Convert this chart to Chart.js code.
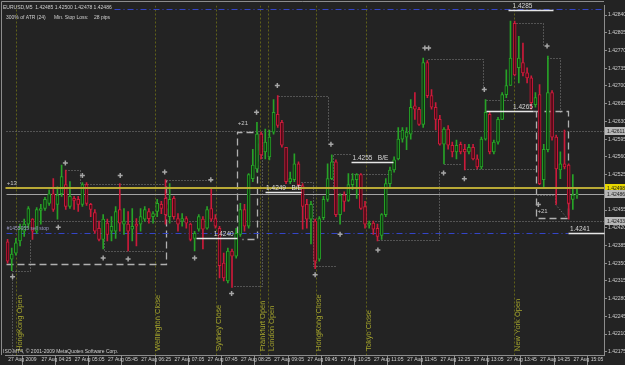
<!DOCTYPE html>
<html><head><meta charset="utf-8">
<script src="https://cdn.jsdelivr.net/npm/chart.js@4.4.1/dist/chart.umd.min.js"></script>
<style>html,body{margin:0;padding:0;background:#232323;overflow:hidden}#wrap{width:625px;height:365px}</style>
</head><body><div id="wrap"><canvas id="c" width="625" height="365"></canvas></div>
<script>
const symbolTitle = "EURUSD,M5  1.42485 1.42500 1.42478 1.42486";
const infoText = "300% of ATR (24)      Min. Stop Loss:    28 pips";
const copyrightText = "ISO MT4, \u00a9 2001-2009 MetaQuotes Software Corp.";

const tickLabels = ["27 Aug 2009","27 Aug 04:25","27 Aug 05:05","27 Aug 05:45","27 Aug 06:25","27 Aug 07:05","27 Aug 07:45","27 Aug 08:25","27 Aug 09:05","27 Aug 09:45","27 Aug 10:25","27 Aug 11:05","27 Aug 11:45","27 Aug 12:25","27 Aug 13:05","27 Aug 13:45","27 Aug 14:25","27 Aug 15:05"];
const yTicks = [1.42175,1.42210,1.42245,1.42280,1.42315,1.42350,1.42385,1.42420,1.42455,1.42490,1.42525,1.42560,1.42595,1.42630,1.42665,1.42700,1.42735,1.42770,1.42805,1.42840];

const opens = [1.42392,1.42358,1.42370,1.42394,1.42413,1.42427,1.42437,1.42413,1.42454,1.42458,1.42468,1.42487,1.42466,1.42487,1.42505,1.42462,1.42478,1.42476,1.42466,1.42505,
1.42466,1.42450,1.42419,1.42397,1.42429,1.42413,1.42413,1.42456,1.42427,1.42427,1.42417,1.42427,1.42427,1.42437,1.42452,1.42442,1.42452,1.42466,1.42478,1.42442,
1.42478,1.42438,1.42433,1.42438,1.42427,1.42399,1.42417,1.42437,1.42419,1.42458,1.42438,1.42419,1.42350,1.42315,1.42374,1.42364,1.42407,1.42456,1.42423,1.42517,
1.42536,1.42605,1.42570,1.42560,1.42609,1.42644,1.42628,1.42579,1.42511,1.42515,1.42546,1.42503,1.42466,1.42437,1.42433,1.42358,1.42440,1.42476,1.42517,1.42550,
1.42446,1.42485,1.42474,1.42505,1.42515,1.42525,1.42462,1.42425,1.42429,1.42419,1.42405,1.42446,1.42507,1.42534,1.42556,1.42595,1.42599,1.42605,1.42661,1.42654,
1.42624,1.42746,1.42681,1.42658,1.42634,1.42585,1.42615,1.42583,1.42570,1.42585,1.42575,1.42570,1.42579,1.42556,1.42540,1.42595,1.42644,1.42570,1.42589,1.42634,
1.42683,1.42701,1.42824,1.42736,1.42746,1.42726,1.42716,1.42663,1.42683,1.42515,1.42574,1.42687,1.42599,1.42534,1.42546,1.42544,1.42476,1.42485];
const highs = [1.42397,1.42380,1.42399,1.42427,1.42437,1.42462,1.42438,1.42460,1.42466,1.42480,1.42495,1.42517,1.42501,1.42544,1.42534,1.42511,1.42482,1.42482,1.42509,1.42509,
1.42468,1.42456,1.42433,1.42446,1.42437,1.42442,1.42462,1.42507,1.42458,1.42452,1.42458,1.42438,1.42458,1.42462,1.42458,1.42452,1.42476,1.42472,1.42515,1.42507,
1.42482,1.42448,1.42448,1.42442,1.42429,1.42413,1.42446,1.42442,1.42462,1.42497,1.42446,1.42423,1.42370,1.42380,1.42378,1.42419,1.42468,1.42466,1.42527,1.42575,
1.42628,1.42609,1.42615,1.42613,1.42673,1.42681,1.42632,1.42579,1.42530,1.42566,1.42550,1.42507,1.42476,1.42472,1.42437,1.42442,1.42482,1.42546,1.42564,1.42554,
1.42487,1.42491,1.42527,1.42527,1.42527,1.42527,1.42472,1.42433,1.42433,1.42427,1.42448,1.42517,1.42540,1.42560,1.42618,1.42618,1.42618,1.42673,1.42687,1.42658,
1.42755,1.42750,1.42693,1.42667,1.42642,1.42618,1.42622,1.42589,1.42593,1.42589,1.42585,1.42585,1.42585,1.42564,1.42599,1.42673,1.42648,1.42593,1.42638,1.42687,
1.42732,1.42828,1.42828,1.42798,1.42785,1.42736,1.42720,1.42687,1.42703,1.42585,1.42759,1.42691,1.42603,1.42570,1.42613,1.42546,1.42525,1.42500];
const lows = [1.42350,1.42335,1.42366,1.42384,1.42403,1.42419,1.42397,1.42409,1.42427,1.42454,1.42464,1.42452,1.42437,1.42482,1.42456,1.42458,1.42456,1.42452,1.42462,1.42464,
1.42442,1.42409,1.42394,1.42378,1.42394,1.42394,1.42399,1.42413,1.42407,1.42374,1.42394,1.42384,1.42413,1.42433,1.42429,1.42429,1.42442,1.42448,1.42427,1.42429,
1.42437,1.42413,1.42423,1.42419,1.42394,1.42374,1.42413,1.42378,1.42417,1.42433,1.42419,1.42321,1.42315,1.42311,1.42302,1.42360,1.42403,1.42413,1.42419,1.42511,
1.42530,1.42556,1.42556,1.42554,1.42605,1.42618,1.42579,1.42507,1.42507,1.42511,1.42501,1.42417,1.42419,1.42388,1.42339,1.42354,1.42436,1.42472,1.42515,1.42442,
1.42427,1.42452,1.42472,1.42495,1.42478,1.42456,1.42419,1.42419,1.42407,1.42394,1.42397,1.42442,1.42501,1.42530,1.42554,1.42589,1.42574,1.42595,1.42634,1.42622,
1.42618,1.42677,1.42654,1.42613,1.42583,1.42546,1.42575,1.42560,1.42556,1.42566,1.42534,1.42566,1.42554,1.42536,1.42536,1.42593,1.42566,1.42566,1.42585,1.42634,
1.42677,1.42701,1.42720,1.42706,1.42720,1.42706,1.42654,1.42658,1.42505,1.42497,1.42570,1.42593,1.42466,1.42517,1.42536,1.42437,1.42456,1.42478];
const closes = [1.42354,1.42368,1.42390,1.42419,1.42427,1.42458,1.42413,1.42456,1.42458,1.42476,1.42487,1.42456,1.42485,1.42521,1.42462,1.42482,1.42474,1.42466,1.42505,1.42468,
1.42456,1.42413,1.42397,1.42437,1.42407,1.42423,1.42452,1.42429,1.42433,1.42413,1.42423,1.42423,1.42442,1.42456,1.42438,1.42448,1.42468,1.42458,1.42446,1.42476,
1.42442,1.42427,1.42438,1.42429,1.42397,1.42409,1.42442,1.42417,1.42456,1.42437,1.42423,1.42345,1.42321,1.42374,1.42364,1.42409,1.42456,1.42423,1.42525,1.42544,
1.42605,1.42564,1.42589,1.42599,1.42648,1.42622,1.42583,1.42511,1.42517,1.42546,1.42505,1.42462,1.42437,1.42466,1.42354,1.42438,1.42476,1.42517,1.42550,1.42446,
1.42485,1.42472,1.42505,1.42515,1.42525,1.42458,1.42427,1.42429,1.42417,1.42403,1.42446,1.42507,1.42534,1.42554,1.42595,1.42613,1.42609,1.42658,1.42654,1.42624,
1.42746,1.42681,1.42658,1.42634,1.42585,1.42615,1.42583,1.42570,1.42583,1.42570,1.42570,1.42579,1.42556,1.42540,1.42595,1.42648,1.42570,1.42589,1.42634,1.42683,
1.42701,1.42755,1.42722,1.42755,1.42726,1.42716,1.42667,1.42677,1.42507,1.42575,1.42687,1.42599,1.42536,1.42546,1.42540,1.42468,1.42485,1.42486];

// horizontal price levels
const yellowLevel = 1.42498;
const bidLevel = 1.42486;
const dottedLevels = [1.42611, 1.42433];
const sellStopLevel = 1.42409;
const topBlueLevel = 1.42853;
const axisMarks = [{price:1.42611, kind:'gray'}, {price:1.42498, kind:'yellow'}, {price:1.42486, kind:'gray'}, {price:1.42433, kind:'gray'}];

// session separators (bar position)
const sessionNames = ["HongKong Open","Wellington Close","Sydney Close","Frankfurt Open","London Open","HongKong Close","Tokyo Close","New York Open"];
const sessionBars = [2.1, 35.4, 50.1, 60.7, 62.7, 74.2, 86.2, 121.9];

// trade levels (white)
const levelPrices = [1.42400, 1.42490, 1.42550, 1.42650, 1.42410, 1.42850];
const levelFrom = [45.3, 62.0, 82.6, 115.0, 134.9, 120.3];
const levelTo = [55.1, 70.7, 92.7, 126.5, 143.5, 131.3];
const levelText = ["1.4240", "1.4249   B/E", "1.4255   B/E", "1.4265", "1.4241", "1.4285"];
const levelTextBar = [49.6, 62.2, 83.0, 121.6, 135.3, 121.5];

// range boxes (long dashes) and stop steps (dotted), [bar, price]
const dashPaths = [
  [[-0.5,1.42349],[38.1,1.42349],[38.1,1.42515]],
  [[55.3,1.42409],[55.3,1.42609],[60.1,1.42609],[60.1,1.42397],[56.5,1.42397]],
  [[126.5,1.42650],[134.9,1.42650],[134.9,1.42439],[127.2,1.42439],[127.2,1.42650]]
];
const dotPaths = [
  [[13.9,1.42534],[17.5,1.42534],[17.5,1.42507],[37.8,1.42507]],
  [[23.2,1.42419],[23.2,1.42374],[37.8,1.42374]],
  [[38.1,1.42515],[49.1,1.42515]],
  [[65.1,1.42681],[77.1,1.42681],[77.1,1.42589]],
  [[54.4,1.42304],[61.1,1.42304],[61.1,1.42609]],
  [[70.7,1.42511],[73.5,1.42511],[73.5,1.42345],[79.0,1.42345]],
  [[78.3,1.42497],[78.3,1.42566],[82.6,1.42566]],
  [[82.6,1.42527],[92.2,1.42527]],
  [[89.1,1.42396],[103.7,1.42396],[103.7,1.42536]],
  [[104.9,1.42546],[109.0,1.42546]],
  [[109.7,1.42536],[127.0,1.42536]],
  [[101.1,1.42753],[114.3,1.42753],[114.3,1.42693]],
  [[115.0,1.42673],[121.7,1.42673]],
  [[121.7,1.42824],[128.9,1.42824],[128.9,1.42779]],
  [[129.8,1.42755],[132.9,1.42755],[132.9,1.42648]],
  [[127.4,1.42485],[131.7,1.42485],[131.7,1.42466],[134.6,1.42439]],
  [[1.0,1.42168],[1.0,1.42335],[5.5,1.42335],[5.5,1.42397]]
];
const markerBars = [13.9,18.0,27.1,12.2,23.0,29.0,1.2,37.8,48.9,59.9,64.9,45.0,53.9,100.4,101.3,77.8,80.0,89.1,104.9,129.8,114.7,109.9,127.7,74.0];
const markerPrices = [1.42548,1.42523,1.42523,1.42421,1.42360,1.42358,1.42323,1.42530,1.42515,1.42648,1.42701,1.42360,1.42290,1.42775,1.42775,1.42585,1.42407,1.42376,1.42528,1.42779,1.42693,1.42517,1.42466,1.42327];
const noteText = ["+13", "+21", "+21", "#1455955 sell stop"];
const noteBar = [-0.2, 55.4, 127.5, -0.2];
const notePrice = [1.42504, 1.42622, 1.42449, 1.42415];

const BG = '#232323';
const GREEN = '#27a327', RED = '#cc1a3a';
const bull = i => closes[i] >= opens[i];
const idx = opens.map((_, i) => i);

function P(chart, b, p) { return [chart.scales.x.getPixelForValue(b), chart.scales.y.getPixelForValue(p)]; }
function strokePath(ctx, chart, pts) {
  ctx.beginPath();
  pts.forEach(([b, p], k) => {
    const [x, y] = P(chart, b, p);
    const X = Math.round(x) + 0.5, Y = Math.round(y) + 0.5;
    if (k) ctx.lineTo(X, Y); else ctx.moveTo(X, Y);
  });
  ctx.stroke();
}
function hLine(ctx, chart, price, b0, b1) { strokePath(ctx, chart, [[b0, price], [b1, price]]); }

const overlay = {
  id: 'overlay',
  beforeDraw(chart) {
    const c = chart.ctx; c.save(); c.fillStyle = BG; c.fillRect(0, 0, chart.width, chart.height); c.restore();
  },
  beforeDatasetsDraw(chart) {
    const c = chart.ctx, a = chart.chartArea;
    c.save();
    c.beginPath(); c.rect(a.left, a.top, a.right - a.left, a.bottom - a.top); c.clip();
    c.strokeStyle = '#606019'; c.lineWidth = 1; c.setLineDash([2, 2]);
    sessionBars.forEach(b => { const x = Math.round(chart.scales.x.getPixelForValue(b)) + 0.5; c.beginPath(); c.moveTo(x, a.top); c.lineTo(x, a.bottom); c.stroke(); });
    c.strokeStyle = '#858585'; c.setLineDash([1, 2]);
    dottedLevels.forEach(p => hLine(c, chart, p, -0.5, 143.5));
    dotPaths.forEach(pts => strokePath(c, chart, pts));
    c.strokeStyle = '#b0b0b0'; c.lineWidth = 1.3; c.setLineDash([7, 4]);
    dashPaths.forEach(pts => strokePath(c, chart, pts));
    c.strokeStyle = '#3445c8'; c.lineWidth = 1; c.setLineDash([6, 3, 1, 3]);
    hLine(c, chart, sellStopLevel, -0.5, levelFrom[4]);
    hLine(c, chart, topBlueLevel, 25.5, 143.5);
    c.setLineDash([]);
    c.strokeStyle = '#a4a4a4'; c.lineWidth = 1;
    hLine(c, chart, bidLevel, -0.5, 143.5);
    c.restore();
  },
  afterDatasetsDraw(chart) {
    const c = chart.ctx, a = chart.chartArea;
    c.save();
    c.strokeStyle = '#b9a936'; c.lineWidth = 2;
    const yy = chart.scales.y.getPixelForValue(yellowLevel);
    c.beginPath(); c.moveTo(a.left, Math.round(yy)); c.lineTo(a.right, Math.round(yy)); c.stroke();
    c.strokeStyle = '#e6e6e6'; c.lineWidth = 1.5;
    levelPrices.forEach((p, i) => hLine(c, chart, p, levelFrom[i], levelTo[i]));
    c.fillStyle = '#d8d8d8'; c.font = '6.5px "Liberation Sans"'; c.textBaseline = 'alphabetic'; c.textAlign = 'left';
    levelPrices.forEach((p, i) => { const [x, y] = P(chart, levelTextBar[i], p); c.fillText(levelText[i], x, y - 2); });
    c.font = '6px "Liberation Sans"';
    noteText.forEach((t, i) => {
      const [x, y] = P(chart, noteBar[i], notePrice[i]);
      c.fillStyle = i === 3 ? '#9a9ac4' : '#c8c8c8';
      if (i === 3) c.font = '5px "Liberation Sans"';
      c.fillText(t, x, y);
    });
    c.fillStyle = '#a3a32e'; c.font = '7.5px "Liberation Sans"';
    sessionNames.forEach((n, i) => {
      const x = chart.scales.x.getPixelForValue(sessionBars[i]);
      c.save(); c.translate(x + 5.5, a.bottom - 4); c.rotate(-Math.PI / 2); c.fillText(n, 0, 0); c.restore();
    });
    c.fillStyle = '#cfcfcf'; c.font = '5px "Liberation Sans"';
    c.fillText(symbolTitle, 3, 9);
    c.fillText(infoText, 6, 19);
    c.fillText(copyrightText, 3, 353);
    c.restore();
  },
  afterDraw(chart) {
    const c = chart.ctx, a = chart.chartArea;
    c.save();
    c.strokeStyle = '#8c8c8c'; c.lineWidth = 1;
    c.beginPath(); c.moveTo(1.5, a.bottom); c.lineTo(1.5, 1.5); c.lineTo(a.right, 1.5); c.stroke();
    c.font = '5px "Liberation Sans"'; c.textBaseline = 'middle'; c.textAlign = 'left';
    axisMarks.forEach(m => {
      const y = Math.round(chart.scales.y.getPixelForValue(m.price));
      c.fillStyle = m.kind === 'yellow' ? '#e8d800' : '#b8b8b8';
      c.fillRect(a.right + 1, y - 4, 20, 8);
      c.fillStyle = '#1a1a1a';
      c.fillText(m.price.toFixed(5), a.right + 3, y + 0.5);
    });
    c.restore();
  }
};

new Chart(document.getElementById('c'), {
  type: 'bar',
  data: {
    datasets: [
      { type: 'bar', data: idx.map(i => ({ x: i, y: [lows[i], highs[i]] })), barThickness: 1, grouped: false, order: 3,
        backgroundColor: ctx => bull(ctx.dataIndex) ? GREEN : RED, borderWidth: 0 },
      { type: 'bar', data: idx.map(i => ({ x: i, y: [opens[i], closes[i]] })), barThickness: 3, grouped: false, order: 2,
        backgroundColor: ctx => bull(ctx.dataIndex) ? '#0d3a10' : '#4a0815',
        borderColor: ctx => bull(ctx.dataIndex) ? GREEN : RED, borderWidth: 1, borderSkipped: false, minBarLength: 1 },
      { type: 'scatter', data: markerBars.map((b, i) => ({ x: b, y: markerPrices[i] })), order: 1,
        pointStyle: 'cross', pointRadius: 2.5, borderColor: '#a6a6a6', backgroundColor: '#a6a6a6', borderWidth: 1.5 }
    ]
  },
  options: {
    responsive: false, animation: false, events: [],
    layout: { padding: { left: 3, top: 2, right: 0, bottom: 0 } },
    plugins: { legend: { display: false }, tooltip: { enabled: false } },
    scales: {
      x: {
        type: 'linear', min: -0.5, max: 143.5, offset: false, bounds: 'data',
        afterFit: s => { s.height = 10; },
        afterBuildTicks: s => { s.ticks = tickLabels.map((t, k) => ({ value: -0.5 + 8 * k })); },
        ticks: { callback: (v, i) => '  ' + tickLabels[i], align: 'start', maxRotation: 0, minRotation: 0, autoSkip: false,
          font: { size: 5, family: 'Liberation Sans' }, color: '#cfcfcf', padding: -8 },
        grid: { drawOnChartArea: false, drawTicks: true, tickLength: 10, color: '#8c8c8c' },
        border: { display: true, color: '#8c8c8c' }
      },
      y: {
        type: 'linear', position: 'right', min: 1.421686, max: 1.428590, bounds: 'data',
        afterFit: s => { s.width = 21; },
        afterBuildTicks: s => { s.ticks = yTicks.map(v => ({ value: v })); },
        ticks: { callback: v => v.toFixed(5), font: { size: 5, family: 'Liberation Sans' }, color: '#cfcfcf', padding: 1 },
        grid: { drawOnChartArea: false, drawTicks: true, tickLength: 3, color: '#8c8c8c' },
        border: { display: true, color: '#8c8c8c' }
      }
    }
  },
  plugins: [overlay]
});
</script></body></html>
